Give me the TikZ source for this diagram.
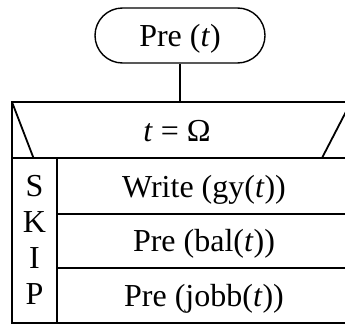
\documentclass[tikz,border=0pt]{standalone}
\usepackage{fontspec}
\setmainfont{Liberation Serif}
\usetikzlibrary{shapes.misc}
\begin{document}
\begin{tikzpicture}[x=1pt,y=-1pt,
  frame/.style={line width=1.8pt},
  lbl/.style={inner sep=0pt, text height=21pt, text depth=0pt,
    font=\fontsize{32}{36}\selectfont},
  terminal/.style={rounded rectangle, draw, line width=1.4pt,
    minimum width=170pt, minimum height=55pt, inner sep=0pt}]
\useasboundingbox (0,0) rectangle (345,324);
\clip (0,0) rectangle (345,324);

% frame corners of the loop block
\coordinate (tl) at (12,102);
\coordinate (br) at (351,323);
\coordinate (tr) at (351,102);
\coordinate (ml) at (12,158);
\coordinate (mr) at (351,158);
\coordinate (sl) at (33.5,158);
\coordinate (sr) at (322,158);
\coordinate (dtop) at (57,157);
\coordinate (dbot) at (57,323);
\coordinate (r1l) at (57,214);
\coordinate (r1r) at (351,214);
\coordinate (r2l) at (57,268);
\coordinate (r2r) at (351,268);

% start symbol and its connector
\node[terminal, lbl] (start) at (180,35.5) {Pre (\textit{t})};
\coordinate (entry) at (start.south |- tl);
\draw[line width=1.4pt] (start.south) -- (entry);

% loop block
\draw[frame] (tl) rectangle (br);
\draw[frame] (ml) -- (mr);
\draw[frame] (tl) -- (sl);
\draw[frame] (tr) -- (sr);
\draw[frame] (dtop) -- (dbot);
\draw[frame] (r1l) -- (r1r);
\draw[frame] (r2l) -- (r2r);

% condition and body texts
\node[lbl] (cond) at (177,131) {\textit{t} = Ω};
\node[lbl] (write) at (204,186.5) {Write (gy(\textit{t}))};
\node[lbl] (bal) at (204,241) {Pre (bal(\textit{t}))};
\node[lbl] (jobb) at (204,295.5) {Pre (jobb(\textit{t}))};

% vertical SKIP label, one letter per line
\node[lbl] (skipS) at (34.5,185.5) {S};
\node[lbl] (skipK) at (34.5,221.5) {K};
\node[lbl] (skipI) at (34.5,257.5) {I};
\node[lbl] (skipP) at (34.5,293.5) {P};
\end{tikzpicture}
\end{document}
